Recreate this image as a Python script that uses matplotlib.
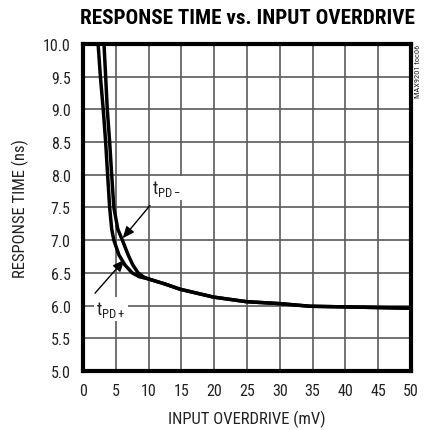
import matplotlib
matplotlib.use("Agg")
import matplotlib.pyplot as plt
from matplotlib import font_manager as fm

# ---- data ----
tpd_plus_x = [2.3, 2.65, 3.08, 3.45, 3.75, 4.06, 4.37, 4.7, 5.5, 6.4, 7.5, 8.6, 9.9, 12.5, 14.8, 19.9, 24.9, 30.0, 34.6, 40.0, 45.0, 50.0]
tpd_plus_y = [10.0, 9.5, 9.0, 8.5, 8.0, 7.5, 7.17, 7.0, 6.77, 6.62, 6.5, 6.44, 6.41, 6.33, 6.25, 6.13, 6.06, 6.03, 5.99, 5.98, 5.97, 5.96]
tpd_minus_x = [3.2, 3.45, 3.7, 4.06, 4.37, 4.7, 5.3, 6.0, 6.9, 7.6, 8.4, 9.2, 9.9, 12.5, 14.8, 19.9, 24.9, 30.0, 34.6, 40.0, 45.0, 50.0]
tpd_minus_y = [10.0, 9.5, 9.0, 8.5, 8.0, 7.5, 7.17, 7.0, 6.77, 6.62, 6.5, 6.44, 6.41, 6.33, 6.25, 6.13, 6.06, 6.03, 5.99, 5.98, 5.97, 5.96]
x_ticks = [0, 5, 10, 15, 20, 25, 30, 35, 40, 45, 50]
y_ticks = [5.0, 5.5, 6.0, 6.5, 7.0, 7.5, 8.0, 8.5, 9.0, 9.5, 10.0]

names = {f.name for f in fm.fontManager.ttflist}
fam = 'DejaVu Sans'
for cand in ['Liberation Sans Narrow', 'Roboto Condensed', 'Open Sans Condensed', 'DejaVu Sans Condensed']:
    if cand in names:
        fam = cand
        break
plt.rcParams['font.family'] = [fam, 'DejaVu Sans']
plt.rcParams['font.stretch'] = 'condensed'
plt.rcParams['mathtext.fontset'] = 'custom'
plt.rcParams['mathtext.rm'] = fam + ':stretch=condensed'

fig = plt.figure(figsize=(4.24, 4.31), dpi=100)
ax = fig.add_axes([0.1958, 0.1369, 0.7736, 0.7587])

ax.plot(tpd_plus_x, tpd_plus_y, color='black', lw=2.5, solid_capstyle='butt', zorder=3)
ax.plot(tpd_minus_x, tpd_minus_y, color='black', lw=2.5, solid_capstyle='butt', zorder=3)

ax.set_xlim(0, 50)
ax.set_ylim(5.0, 10.0)
ax.set_xticks(x_ticks)
ax.set_yticks(y_ticks)
ax.set_xticklabels([str(v) for v in x_ticks])
ax.set_yticklabels([f"{v:.1f}" for v in y_ticks])
ax.tick_params(length=0, labelsize=11.5, pad=9, colors='#222222')
ax.grid(True, color='#5a5a5a', lw=1.2)
ax.set_axisbelow(True)
for s in ax.spines.values():
    s.set_linewidth(3)
    s.set_color('black')
    s.set_zorder(5)

ax.set_xlabel('INPUT OVERDRIVE (mV)', fontsize=12, labelpad=8, color='#222222')
ax.set_ylabel('RESPONSE TIME (ns)', fontsize=12, labelpad=10, color='#222222')
fig.text(0.5825, 0.958, 'RESPONSE TIME vs. INPUT OVERDRIVE', ha='center', va='center',
         fontsize=15.2, fontweight='heavy', color='black')
fig.text(0.985, 0.8956, 'MAX9201 toc06', rotation=90, ha='center', va='top', fontsize=6, color='#222222')

arrowprops = dict(arrowstyle='-|>,head_length=0.7,head_width=0.3', color='black', lw=1.0, shrinkA=0, shrinkB=0)
ax.annotate('', xy=(6.05, 7.03), xytext=(10.2, 7.53), arrowprops=arrowprops, zorder=4)
ax.annotate('', xy=(6.3, 6.70), xytext=(1.83, 6.19), arrowprops=arrowprops, zorder=4)
ax.text(12.7, 7.80, r'$\mathregular{t_{PD-}}$', fontsize=13, ha='center', va='center', color='#222222',
        bbox=dict(facecolor='white', edgecolor='none', pad=1.5), zorder=4)
ax.text(4.3, 5.95, r'$\mathregular{t_{PD+}}$', fontsize=13, ha='center', va='center', color='#222222',
        bbox=dict(facecolor='white', edgecolor='none', pad=1.5), zorder=4)

fig.savefig('out.png', dpi=100)
